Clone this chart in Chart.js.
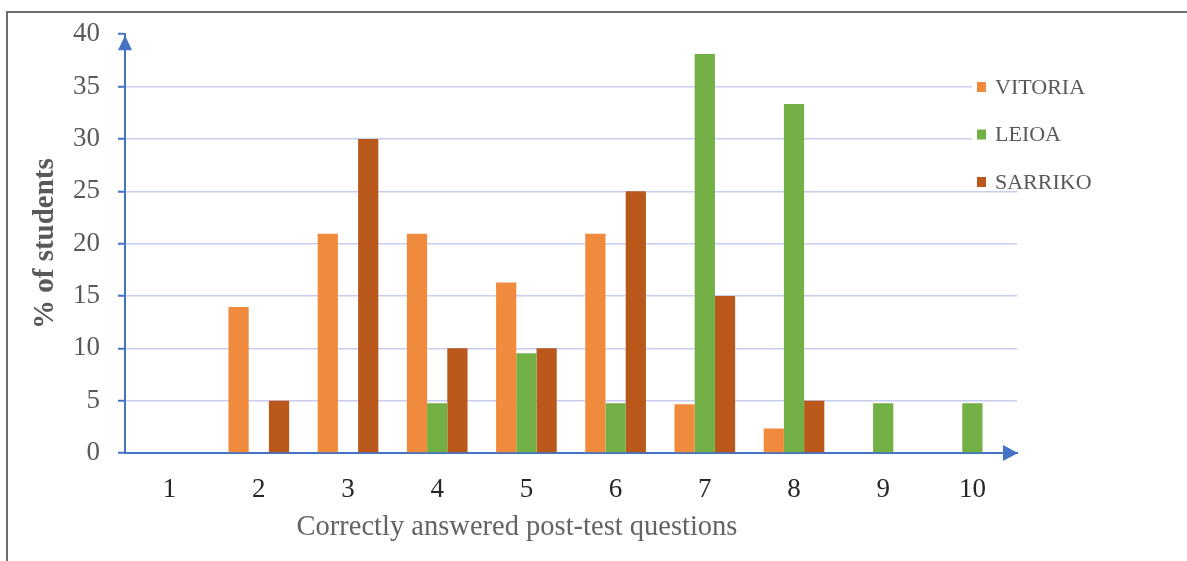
<!DOCTYPE html>
<html>
<head>
<meta charset="utf-8">
<script src="https://cdn.jsdelivr.net/npm/chart.js@4.4.1/dist/chart.umd.min.js"></script>
<style>
  html, body { margin: 0; padding: 0; background: #ffffff; }
  #wrap { position: relative; width: 1187px; height: 561px; }
</style>
</head>
<body>
<div id="wrap"><canvas id="chart" width="1187" height="561"></canvas></div>
<script>
// Number of correctly answered post-test questions
const categories = ['1', '2', '3', '4', '5', '6', '7', '8', '9', '10'];

// Share of students (%) per campus
const vitoria = [0, 13.95, 20.93, 20.93, 16.28, 20.93, 4.65, 2.33, 0, 0];
const leioa   = [0, 0, 0, 4.76, 9.52, 4.76, 38.10, 33.33, 4.76, 4.76];
const sarriko = [0, 5, 30, 10, 10, 25, 15, 5, 0, 0];

const seriesNames = ['VITORIA', 'LEIOA', 'SARRIKO'];
const yTickValues = [0, 5, 10, 15, 20, 25, 30, 35, 40];

const xTitle = 'Correctly answered post-test questions';
const yTitle = '% of students';

const AXIS_BLUE = '#4472c4';
const SERIF = '"Liberation Serif", "Times New Roman", serif';

// Frame, axis arrows, x title and legend
const decorations = {
  id: 'decorations',
  beforeDraw(chart) {
    const ctx = chart.ctx;
    ctx.save();
    ctx.strokeStyle = '#6e6e6e';
    ctx.lineWidth = 2;
    ctx.beginPath();
    ctx.moveTo(7, 561);
    ctx.lineTo(7, 12);
    ctx.lineTo(1187, 12);
    ctx.stroke();
    ctx.restore();
  },
  afterDraw(chart) {
    const ctx = chart.ctx;
    const area = chart.chartArea;
    ctx.save();

    // arrowheads on the axes
    ctx.fillStyle = AXIS_BLUE;
    const ax = area.left;
    ctx.beginPath();
    ctx.moveTo(ax, area.top + 1);
    ctx.lineTo(ax - 7, area.top + 16);
    ctx.lineTo(ax + 7, area.top + 16);
    ctx.closePath();
    ctx.fill();
    const ay = area.bottom;
    ctx.beginPath();
    ctx.moveTo(area.right + 1, ay);
    ctx.lineTo(area.right - 14, ay - 8);
    ctx.lineTo(area.right - 14, ay + 8);
    ctx.closePath();
    ctx.fill();

    // x axis title
    ctx.fillStyle = '#636363';
    ctx.font = '28.5px ' + SERIF;
    ctx.textAlign = 'center';
    ctx.textBaseline = 'alphabetic';
    ctx.fillText(xTitle, 517, 535);

    // legend
    ctx.textBaseline = 'middle';
    ctx.fillStyle = '#ffffff';
    ctx.fillRect(972, 70, 140, 118);
    ctx.font = '22px ' + SERIF;
    ctx.textAlign = 'left';
    chart.data.datasets.forEach((ds, i) => {
      const cy = 87 + i * 47.5;
      ctx.fillStyle = ds.backgroundColor;
      ctx.fillRect(977, cy - 5, 9, 10);
      ctx.fillStyle = '#595959';
      ctx.fillText(ds.label, 995, cy + 1);
    });
    ctx.restore();
  }
};

new Chart(document.getElementById('chart'), {
  type: 'bar',
  data: {
    labels: categories,
    datasets: [
      { label: seriesNames[0], data: vitoria, backgroundColor: '#f08a3c' },
      { label: seriesNames[1], data: leioa,   backgroundColor: '#72b046' },
      { label: seriesNames[2], data: sarriko, backgroundColor: '#b9581a' }
    ]
  },
  options: {
    responsive: false,
    animation: false,
    devicePixelRatio: 1,
    categoryPercentage: 0.68,
    barPercentage: 1.0,
    layout: { padding: { left: 0, top: 34, right: 170, bottom: 0 } },
    plugins: {
      legend: { display: false },
      tooltip: { enabled: false }
    },
    scales: {
      x: {
        afterFit(scale) { scale.height = 108; },
        grid: { display: false, drawTicks: false },
        border: { display: true, color: AXIS_BLUE, width: 2 },
        ticks: {
          color: '#262626',
          padding: 21,
          font: { family: SERIF, size: 27 }
        }
      },
      y: {
        min: 0,
        max: 40,
        afterFit(scale) { scale.width = 125; },
        afterBuildTicks(scale) {
          scale.ticks = yTickValues.map(v => ({ value: v }));
        },
        grid: {
          color: ctx => (ctx.tick && (ctx.tick.value === 0 || ctx.tick.value === 40)) ? 'rgba(0,0,0,0)' : '#c9cdf1',
          lineWidth: 1.5,
          drawTicks: true,
          tickLength: 7,
          tickColor: AXIS_BLUE,
          tickWidth: 2
        },
        border: { display: true, color: AXIS_BLUE, width: 2 },
        ticks: {
          color: '#595959',
          padding: 18,
          font: { family: SERIF, size: 27 }
        },
        title: {
          display: true,
          text: yTitle,
          color: '#595959',
          font: { family: SERIF, size: 29, weight: 'bold' },
          padding: { top: 28, bottom: 0 }
        }
      }
    }
  },
  plugins: [decorations]
});
</script>
</body>
</html>
